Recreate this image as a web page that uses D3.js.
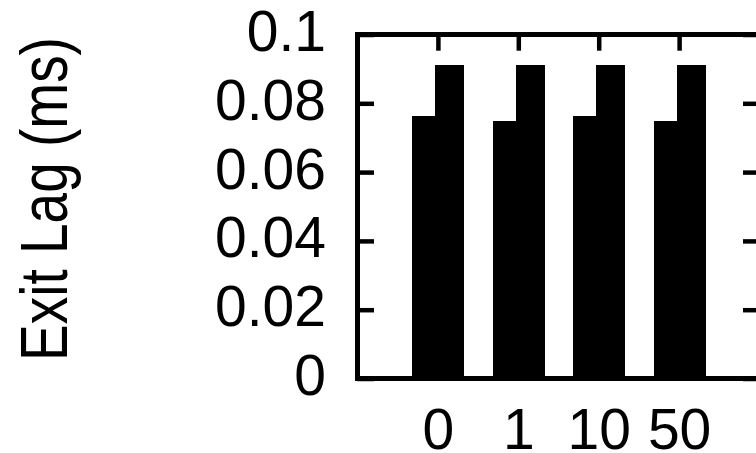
<!DOCTYPE html>
<html>
<head>
<meta charset="utf-8">
<script src="https://cdn.jsdelivr.net/npm/d3@7"></script>
<style>
  html, body { margin: 0; padding: 0; background: #fff; }
  svg { display: block; }
  text { font-family: "Liberation Sans", Arial, sans-serif; fill: #000; }
</style>
</head>
<body>
<svg id="chart" width="756" height="453"></svg>
<script>
const categories = ["0", "1", "10", "50"];
const seriesA = [0.0763, 0.0749, 0.0763, 0.0749];
const seriesB = [0.0911, 0.0911, 0.0911, 0.0911];
const yTickValues = [0, 0.02, 0.04, 0.06, 0.08, 0.1];
const yTickLabels = ["0", "0.02", "0.04", "0.06", "0.08", "0.1"];
const yTitle = "Exit Lag (ms)";

(function () {
const svg = d3.select("#chart");
const mLeft = 357.5, mRight = 759.5, mTop = 34.5, mBottom = 378.5;
const fontSize = 57;

const x = d3.scaleLinear().domain([0, categories.length + 1]).range([mLeft, mRight]);
const xPos = (i) => x(i + 1);
const y = d3.scaleLinear().domain([0, 0.1]).range([mBottom, mTop]);

// bars
const g = svg.append("g").attr("shape-rendering", "crispEdges");
g.selectAll("rect.a").data(seriesA).join("rect").attr("class", "a")
  .attr("x", (d, i) => xPos(i) - 25.5)
  .attr("width", 23.5)
  .attr("y", d => y(d))
  .attr("height", d => y(0) - y(d))
  .attr("fill", "#000");
g.selectAll("rect.b").data(seriesB).join("rect").attr("class", "b")
  .attr("x", (d, i) => xPos(i) - 2.5)
  .attr("width", 29)
  .attr("y", d => y(d))
  .attr("height", d => y(0) - y(d))
  .attr("fill", "#000");

const tickW = 4.5;
function styleAxis(sel) {
  sel.select(".domain").remove();
  sel.selectAll(".tick line").attr("stroke", "#000").attr("stroke-width", tickW);
  sel.selectAll(".tick text").attr("font-size", fontSize)
     .attr("font-family", '"Liberation Sans", Arial, sans-serif').attr("fill", "#000");
}

const yAxisL = d3.axisLeft(y).tickValues(yTickValues)
  .tickFormat((d, i) => yTickLabels[i]).tickSize(-16.5).tickPadding(31.5);
svg.append("g").attr("transform", `translate(${mLeft},0)`).call(yAxisL).call(styleAxis)
  .selectAll(".tick text").attr("dy", "0.28em");

const yAxisR = d3.axisRight(y).tickValues(yTickValues).tickFormat("").tickSize(-16.5);
svg.append("g").attr("transform", `translate(${mRight},0)`).call(yAxisR).call(styleAxis);

const xAxisT = d3.axisTop(x).tickValues(categories.map((c, i) => i + 1)).tickFormat("").tickSize(-16.2);
svg.append("g").attr("transform", `translate(0,${mTop})`).call(xAxisT).call(styleAxis);

const xAxisB = d3.axisBottom(x).tickValues(categories.map((c, i) => i + 1))
  .tickFormat((d, i) => categories[i]).tickSize(0).tickPadding(30);
svg.append("g").attr("transform", `translate(0,${mBottom})`).call(xAxisB).call(styleAxis);

svg.append("rect").attr("x", mLeft).attr("y", mTop)
  .attr("width", mRight - mLeft).attr("height", mBottom - mTop)
  .attr("fill", "none").attr("stroke", "#000").attr("stroke-width", 5);

svg.append("text")
  .attr("transform", `translate(67,199) rotate(-90) scale(1,1.22)`)
  .attr("text-anchor", "middle")
  .attr("font-size", 55)
  .text(yTitle);
})();
</script>
</body>
</html>
